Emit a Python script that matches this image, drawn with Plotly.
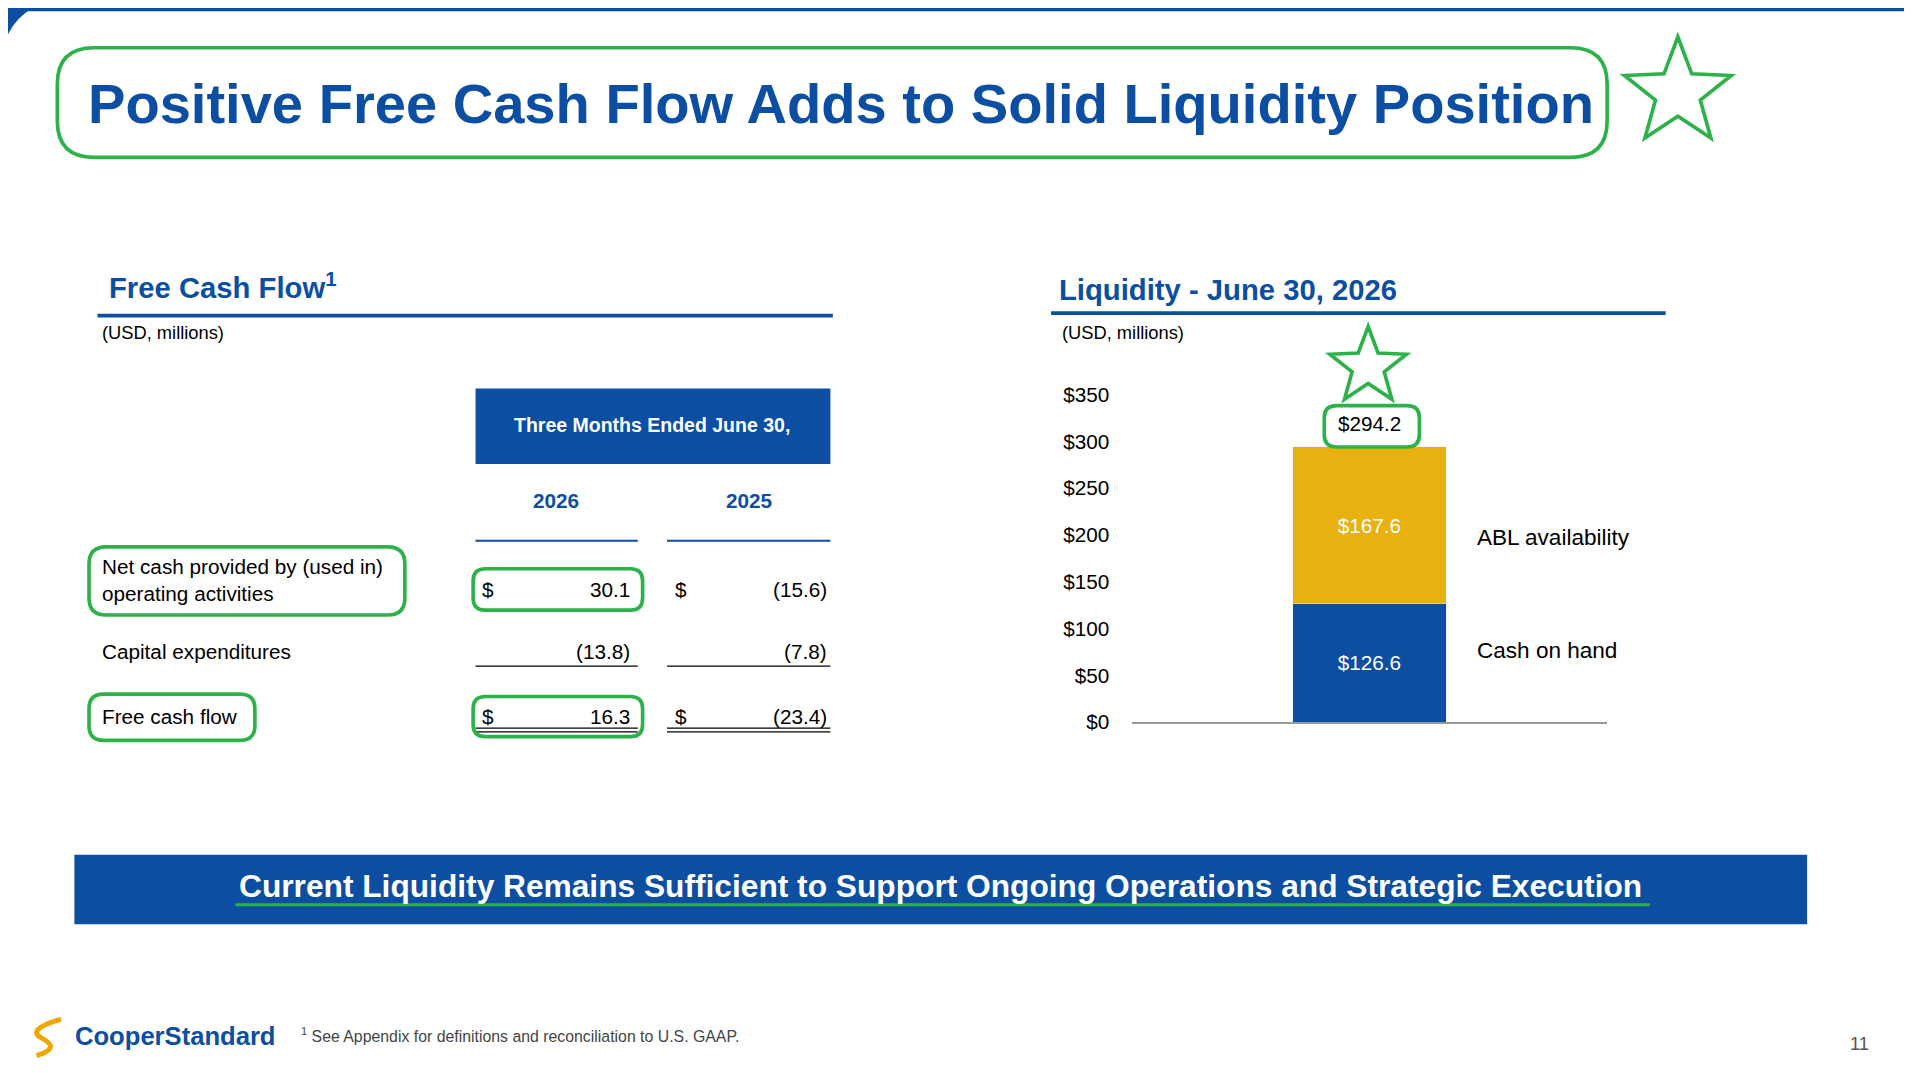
import plotly.graph_objects as go
import math

W, H = 1912, 1073
FW, FH = W - 16, H - 16
DW, DH = 1568, 880
S = W / DW
BLUE = "#0b4ea2"
GOLD = "#e9b10f"
GREEN = "#2db24a"

# ---- data ----
liq_category = ["June 30, 2026"]
cash_on_hand = [126.6]
abl_avail = [167.6]
total_liq = 294.2
y_ticks = [0, 50, 100, 150, 200, 250, 300, 350]

years = ["2026", "2025"]
row_labels = ["Net cash provided by (used in)<br>operating activities", "Capital expenditures", "Free cash flow"]
vals_2026 = ["30.1", "(13.8)", "16.3"]
vals_2025 = ["(15.6)", "(7.8)", "(23.4)"]

def px(x): return (x * S - 8) / FW
def py(y):
    yy = 38 + (y - 46) / 0.98
    return 1 - (yy * S - 8) / FH

shapes, ann = [], []

def text(x, y, t, size, color="black", bold=False, xa="left", ya="middle", font="Arial"):
    if bold: t = "<b>" + t + "</b>"
    ann.append(dict(x=px(x), y=py(y), xref="paper", yref="paper", text=t, showarrow=False, align="left",
                    xanchor=xa, yanchor=ya, font=dict(size=size * S, color=color, family=font)))

def line(x0, y0, x1, y1, color="black", w=1):
    shapes.append(dict(type="line", xref="paper", yref="paper", x0=px(x0), y0=py(y0), x1=px(x1), y1=py(y1),
                       line=dict(color=color, width=w * S)))

def rect(x0, y0, x1, y1, fill):
    shapes.append(dict(type="rect", xref="paper", yref="paper", x0=px(x0), y0=py(y0), x1=px(x1), y1=py(y1),
                       fillcolor=fill, line=dict(width=0), layer="below"))

def rrect(x0, y0, x1, y1, r, color=GREEN, w=3):
    P = lambda x, y: f"{px(x):.5f},{py(y):.5f}"
    d = (f"M{P(x0+r,y0)} L{P(x1-r,y0)} Q{P(x1,y0)} {P(x1,y0+r)} L{P(x1,y1-r)} Q{P(x1,y1)} {P(x1-r,y1)} "
         f"L{P(x0+r,y1)} Q{P(x0,y1)} {P(x0,y1-r)} L{P(x0,y0+r)} Q{P(x0,y0)} {P(x0+r,y0)} Z")
    shapes.append(dict(type="path", xref="paper", yref="paper", path=d, line=dict(color=color, width=w * S)))

def star(cx, cy, R, w=3):
    pts = []
    for i in range(10):
        rr = R if i % 2 == 0 else R * 0.42
        a = -math.pi / 2 + i * math.pi / 5
        pts.append((cx + rr * math.cos(a), cy + rr * math.sin(a)))
    d = "M" + " L".join(f"{px(x):.5f},{py(y):.5f}" for x, y in pts) + " Z"
    shapes.append(dict(type="path", xref="paper", yref="paper", path=d, line=dict(color=GREEN, width=w * S)))

# top band
rect(0, -10, DW, 8, BLUE)
shapes.append(dict(type="path", xref="paper", yref="paper",
                   path=f"M{px(0)},{py(0)} L{px(40)},{py(0)} Q{px(5)},{py(10)} {px(0)},{py(50)} Z",
                   fillcolor=BLUE, line=dict(width=0)))

# title
rrect(47, 38, 1318, 128, 30)
text(690, 84, "Positive Free Cash Flow Adds to Solid Liquidity Position", 46, BLUE, True, "center")
star(1376, 75, 46)

# Free cash flow section
ann.append(dict(x=px(88), y=py(233), xref="paper", yref="paper", showarrow=False, xanchor="left", yanchor="middle",
                text="<b>Free Cash Flow<sup>1</sup></b>", font=dict(size=24 * S, color=BLUE, family="Arial")))
line(80, 258, 683, 258, BLUE, 3)
text(82, 272, "(USD, millions)", 15)
rect(390, 318, 681, 380, BLUE)
text(535, 348, "Three Months Ended June 30,", 16, "white", True, "center")
text(456, 410, years[0], 17, BLUE, True, "center")
text(614, 410, years[1], 17, BLUE, True, "center")
line(390, 443, 523, 443, BLUE, 1.5)
line(547, 443, 681, 443, BLUE, 1.5)

row_y = [475, 534, 587]
for i, lab in enumerate(row_labels):
    text(82, row_y[i], lab, 17)
    vy = 483 if i == 0 else row_y[i]
    if i != 1:
        text(394, vy, "$", 17)
        text(552, vy, "$", 17)
    text(518, vy, vals_2026[i], 17, xa="right")
    text(680, vy, vals_2025[i], 17, xa="right")
line(390, 546, 523, 546); line(547, 546, 681, 546)
for yy in (597, 600):
    line(390, yy, 523, yy); line(547, yy, 681, yy)
rrect(73, 448, 332, 504, 14)
rrect(388, 466, 527, 500, 10)
rrect(73, 569, 209, 607, 12)
rrect(388, 571, 527, 604, 10)

# Liquidity section
text(867, 237, "Liquidity - June 30, 2026", 24, BLUE, True)
line(862, 256, 1366, 256, BLUE, 3)
text(869, 272, "(USD, millions)", 15)
star(1122, 300, 33)
rrect(1086, 332, 1164, 366, 10)
text(1210, 440, "ABL availability", 18.5)
text(1210, 533, "Cash on hand", 18.5)

# banner
rect(61, 701, 1482, 758, BLUE)
text(771, 727, "Current Liquidity Remains Sufficient to Support Ongoing Operations and Strategic Execution", 26, "white", True, "center")
line(193, 742, 1353, 742, GREEN, 2.5)

# footer
text(60, 850, "<b>CooperStandard</b>", 21, BLUE, False)
shapes.append(dict(type="path", xref="paper", yref="paper",
                   path=f"M{px(50)},{py(836)} Q{px(20)},{py(845)} {px(35)},{py(852)} Q{px(50)},{py(860)} {px(30)},{py(866)}",
                   line=dict(color="#f0a500", width=4 * S)))
text(245, 849, "<sup>1</sup> See Appendix for definitions and reconciliation to U.S. GAAP.", 13, "#444")
text(1525, 856, "11", 15, "#555", xa="center")

fig = go.Figure()
fig.add_bar(x=liq_category, y=cash_on_hand, marker_color=BLUE, width=0.323,
            text=[f"${v}" for v in cash_on_hand], textposition="inside", insidetextanchor="middle",
            textfont=dict(color="white", size=17 * S, family="Arial"))
fig.add_bar(x=liq_category, y=abl_avail, marker_color=GOLD, width=0.323,
            text=[f"${v}" for v in abl_avail], textposition="inside", insidetextanchor="middle",
            textfont=dict(color="white", size=17 * S, family="Arial"))
ann.append(dict(x=liq_category[0], y=total_liq, xref="x", yref="y", text=f"${total_liq}", showarrow=False,
                yanchor="bottom", yshift=8 * S, font=dict(size=17 * S, color="black", family="Arial")))

fig.update_layout(width=FW, height=FH, margin=dict(l=0, r=0, t=0, b=0), barmode="stack",
                  plot_bgcolor="white", paper_bgcolor="white", showlegend=False,
                  shapes=shapes, annotations=ann,
                  xaxis=dict(domain=[px(928), px(1318)], range=[-0.5, 0.5], showticklabels=False,
                             showline=True, linecolor="#999", linewidth=1.5 * S, showgrid=False, zeroline=False),
                  yaxis=dict(domain=[py(592), py(323)], range=[0, 350], tickvals=y_ticks,
                             ticktext=[f"${v}" for v in y_ticks], showgrid=False, zeroline=False,
                             ticks="outside", ticklen=14 * S, tickcolor="rgba(0,0,0,0)",
                             tickfont=dict(size=17 * S, color="black", family="Arial")))
fig.write_html("out.html")
